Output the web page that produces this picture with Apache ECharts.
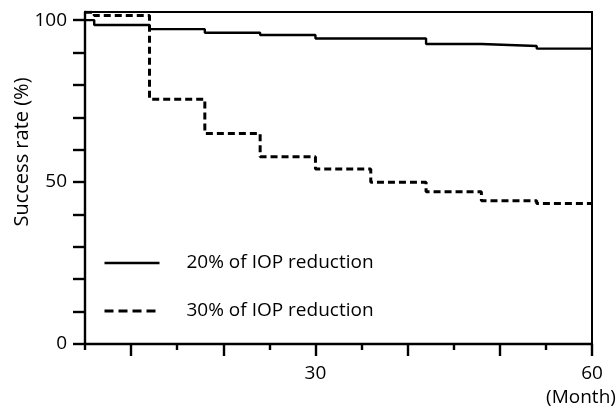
<!DOCTYPE html>
<html>
<head>
<meta charset="utf-8">
<script src="https://cdn.jsdelivr.net/npm/echarts@6/dist/echarts.min.js"></script>
<style>html,body{margin:0;padding:0;background:#fff}#c{width:616px;height:411px}</style>
</head>
<body>
<div id="c"></div>
<script>
// Data
var seriesNames = ['20% of IOP reduction', '30% of IOP reduction'];
var months20 = [5, 6, 12, 18, 24, 30, 42, 48, 54, 60];
var rate20 = [100, 98.5, 97.2, 96.1, 95.4, 94.3, 92.6, 92.0, 91.2, 91.2];
var months30 = [5, 6, 12, 18, 24, 30, 36, 42, 48, 54, 60];
var rate30 = [102.4, 101.4, 75.6, 65.0, 57.8, 54.0, 49.9, 47.0, 44.2, 43.4, 43.4];
var yTicks = [0, 10, 20, 30, 40, 50, 60, 70, 80, 90, 100];
var yLabels = [0, 50, 100];
var xShortTicks = [5, 15, 25, 35, 45, 55];
var xLongTicks = [10, 20, 30, 40, 50, 60];
var xLabels = [30, 60];

function pairs(xs, ys) { return xs.map(function (x, i) { return [x, ys[i]]; }); }

var FONT = '"Open Sans", sans-serif';
var chart = echarts.init(document.getElementById('c'));
chart.setOption({
  backgroundColor: '#fff',
  animation: false,
  grid: { left: 85, right: 24, top: 12, bottom: 67, show: true, borderColor: '#000', borderWidth: 2, backgroundColor: 'transparent' },
  legend: {
    orient: 'vertical', left: 103, top: 253, padding: 0,
    itemWidth: 55, itemHeight: 20, itemGap: 28,
    data: [
      { name: seriesNames[0], lineStyle: { width: 2.4 } },
      { name: seriesNames[1], lineStyle: { width: 3, type: [9, 5] } }
    ],
    itemStyle: { opacity: 0 },
    textStyle: { fontFamily: FONT, fontSize: 19, color: '#000', padding: [0, 0, 0, 22], lineHeight: 20 }
  },
  xAxis: [{
    type: 'value', min: 5, max: 60,
    axisLine: { show: true, lineStyle: { color: '#000', width: 2.4 } },
    axisTick: { show: true, customValues: xShortTicks, length: 6, lineStyle: { color: '#000', width: 2.4 } },
    axisLabel: { customValues: xLabels, fontFamily: FONT, fontSize: 19, color: '#000', margin: 20 },
    splitLine: { show: false }
  }, {
    type: 'value', min: 5, max: 60, position: 'bottom',
    axisLine: { show: false },
    axisTick: { show: true, customValues: xLongTicks, length: 12, lineStyle: { color: '#000', width: 2.4 } },
    axisLabel: { show: false },
    splitLine: { show: false }
  }],
  yAxis: {
    type: 'value', min: 0, max: 102.5,
    axisLine: { show: true, lineStyle: { color: '#000', width: 2.4 } },
    axisTick: { show: true, customValues: yTicks, length: 12, lineStyle: { color: '#000', width: 2.4 } },
    axisLabel: { customValues: yLabels, fontFamily: FONT, fontSize: 19, color: '#000', margin: 18 },
    splitLine: { show: false }
  },
  graphic: [{
    type: 'text', x: 22, y: 152, rotation: Math.PI / 2,
    style: { text: 'Success rate (%)', fontFamily: FONT, fontSize: 20, fill: '#000', align: 'center', verticalAlign: 'middle' }
  }, {
    type: 'text', x: 581, y: 398,
    style: { text: '(Month)', fontFamily: FONT, fontSize: 19, fill: '#000', align: 'center', verticalAlign: 'middle' }
  }],
  series: [{
    name: seriesNames[0], type: 'line', step: 'end', symbol: 'none', xAxisIndex: 0,
    data: pairs(months20, rate20),
    lineStyle: { color: '#000', width: 2.4, type: 'solid' },
    itemStyle: { color: '#000' }
  }, {
    name: seriesNames[1], type: 'line', step: 'end', symbol: 'none', xAxisIndex: 0,
    data: pairs(months30, rate30),
    lineStyle: { color: '#000', width: 3, type: [7, 4] },
    itemStyle: { color: '#000' }
  }]
});
</script>
</body>
</html>
